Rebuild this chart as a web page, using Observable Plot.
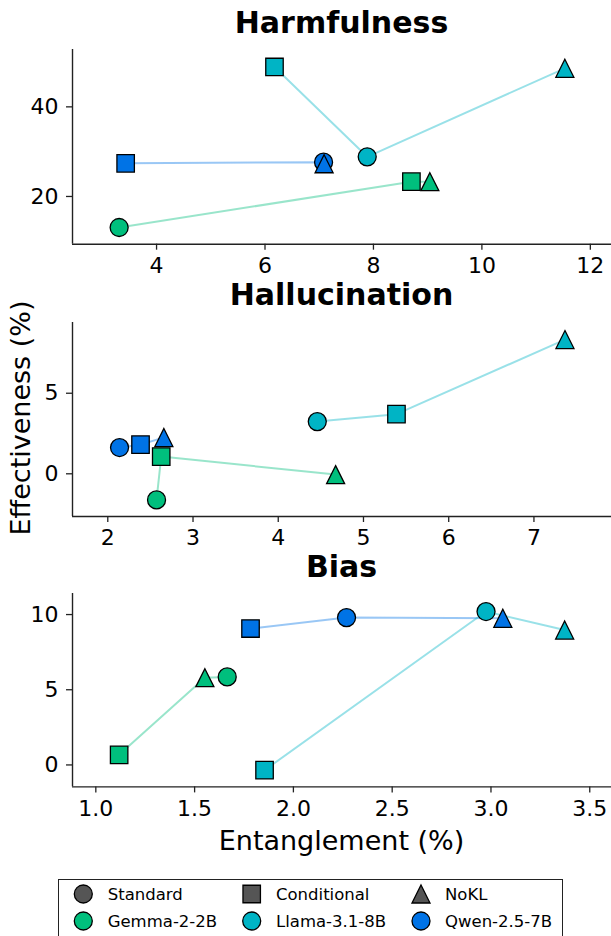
<!DOCTYPE html>
<html>
<head>
<meta charset="utf-8">
<script src="https://cdn.jsdelivr.net/npm/d3@7"></script>
<script src="https://cdn.jsdelivr.net/npm/@observablehq/plot@0.6"></script>
<style>
  html, body { margin: 0; padding: 0; background: #fff; }
  #fig { position: relative; width: 611px; height: 936px; overflow: hidden; font-family: "DejaVu Sans", sans-serif; }
  #fig > svg.panel { position: absolute; left: 0; }
  #labels { position: absolute; left: 0; top: 0; }
  #legend { position: absolute; left: 58px; top: 879px; width: 505px; height: 72px; border: 1.4px solid #222; box-sizing: border-box; background: #fff; }
</style>
</head>
<body>
<div id="fig"></div>
<script>
// Models, methods and colours
const models = ["Gemma-2-2B", "Llama-3.1-8B", "Qwen-2.5-7B"];
const modelColors = ["#00bf7d", "#00b4c5", "#0073e6"];
const methods = ["Standard", "Conditional", "NoKL"];

// Values are listed model by model, each in method order (Standard, Conditional, NoKL)
const harmfulnessEntanglement = [3.31, 8.70, 9.04, 7.885, 6.175, 11.53, 7.08, 3.43, 7.09];
const harmfulnessEffectiveness = [13.07, 23.3, 23.3, 28.85, 48.9, 48.6, 27.65, 27.4, 27.3];
const hallucinationEntanglement = [2.572, 2.627, 4.673, 4.458, 5.387, 7.364, 2.138, 2.384, 2.658];
const hallucinationEffectiveness = [-1.62, 1.07, -0.05, 3.24, 3.70, 8.33, 1.63, 1.81, 2.25];
const biasEntanglement = [1.665, 1.118, 1.552, 2.975, 1.854, 3.373, 2.269, 1.783, 3.060];
const biasEffectiveness = [5.855, 0.67, 5.8, 10.2, -0.35, 8.97, 9.80, 9.07, 9.75];

// Tick values
const harmfulnessXTicks = [4, 6, 8, 10, 12];
const harmfulnessYTicks = [20, 40];
const hallucinationXTicks = [2, 3, 4, 5, 6, 7];
const hallucinationYTicks = [0, 5];
const biasXTicks = [1.0, 1.5, 2.0, 2.5, 3.0, 3.5];
const biasYTicks = [0, 5, 10];

// Text
const panelTitles = ["Harmfulness", "Hallucination", "Bias"];
const xLabel = "Entanglement (%)";
const yLabel = "Effectiveness (%)";

// Marker shapes sharing one bounding box (half-size derived from Plot's r)
const half = size => Math.sqrt(size / Math.PI);
const symbolCircle = { draw(ctx, size) { const r = half(size); ctx.moveTo(r, 0); ctx.arc(0, 0, r, 0, 2 * Math.PI); } };
const symbolSquare = { draw(ctx, size) { const r = half(size) * 0.97; ctx.moveTo(-r, -r); ctx.lineTo(r, -r); ctx.lineTo(r, r); ctx.lineTo(-r, r); ctx.closePath(); } };
const symbolTriangle = { draw(ctx, size) { const r = half(size); ctx.moveTo(0, -r); ctx.lineTo(r, r); ctx.lineTo(-r, r); ctx.closePath(); } };
const methodSymbols = { Standard: symbolCircle, Conditional: symbolSquare, NoKL: symbolTriangle };

const panels = [
  { title: panelTitles[0], xs: harmfulnessEntanglement, ys: harmfulnessEffectiveness,
    xDomain: [2.45, 12.39], yDomain: [9.35, 52.8], xTicks: harmfulnessXTicks, yTicks: harmfulnessYTicks,
    xFormat: d3.format("d"), top: 49, bottom: 243.7, titleBase: 33.3 },
  { title: panelTitles[1], xs: hallucinationEntanglement, ys: hallucinationEffectiveness,
    xDomain: [1.586, 7.91], yDomain: [-2.65, 9.39], xTicks: hallucinationXTicks, yTicks: hallucinationYTicks,
    xFormat: d3.format("d"), top: 321.7, bottom: 515.7, titleBase: 305 },
  { title: panelTitles[2], xs: biasEntanglement, ys: biasEffectiveness,
    xDomain: [0.882, 3.61], yDomain: [-1.46, 11.4], xTicks: biasXTicks, yTicks: biasYTicks,
    xFormat: d3.format(".1f"), top: 593.3, bottom: 786.7, titleBase: 576.7 }
];

const fig = document.getElementById("fig");
const W = 611, ML = 72, MT = 12, MB = 48;

for (const p of panels) {
  const rows = models.flatMap((model, i) => methods.map((method, j) => ({
    model, method, x: p.xs[i * 3 + j], y: p.ys[i * 3 + j]
  })));
  const lineRows = d3.sort(rows, d => d.x);
  const height = p.bottom - p.top + MT + MB;

  const chart = Plot.plot({
    width: W,
    height,
    marginLeft: ML,
    marginRight: 0,
    marginTop: MT,
    marginBottom: MB,
    x: { domain: p.xDomain, label: null },
    y: { domain: p.yDomain, label: null },
    color: { domain: models, range: modelColors },
    style: { background: "transparent", overflow: "visible", fontFamily: "DejaVu Sans, sans-serif", color: "black" },
    marks: [
      Plot.line(lineRows, { x: "x", y: "y", z: "model", stroke: "model", strokeOpacity: 0.4, strokeWidth: 2 }),
      ...methods.map(m => Plot.dot(rows.filter(d => d.method === m), {
        x: "x", y: "y", fill: "model", stroke: "black", strokeWidth: 1.3, r: 9, symbol: methodSymbols[m]
      })),
      Plot.ruleX([p.xDomain[0]], { stroke: "#222", strokeWidth: 1.4 }),
      Plot.ruleY([p.yDomain[0]], { stroke: "#222", strokeWidth: 1.4 }),
      Plot.axisX({ ticks: p.xTicks, tickFormat: p.xFormat, tickSize: 6, tickPadding: 7, fontSize: 22, strokeWidth: 1.3, stroke: "#222", label: null }),
      Plot.axisY({ ticks: p.yTicks, tickFormat: d3.format("d"), tickSize: 6, tickPadding: 8, fontSize: 22, strokeWidth: 1.3, stroke: "#222", label: null })
    ]
  });
  chart.classList.add("panel");
  chart.style.top = (p.top - MT) + "px";
  fig.appendChild(chart);
}

// Titles and shared axis labels
const labels = d3.select(fig).append("svg").attr("id", "labels").attr("width", W).attr("height", 936)
  .style("font-family", "DejaVu Sans, sans-serif");
const cx = (ML + W) / 2;
for (const p of panels) {
  labels.append("text").attr("x", cx).attr("y", p.titleBase).attr("text-anchor", "middle")
    .attr("font-size", 30).attr("font-weight", "bold").attr("fill", "black").text(p.title);
}
labels.append("text").attr("x", cx).attr("y", 850).attr("text-anchor", "middle")
  .attr("font-size", 27).attr("fill", "black").text(xLabel);
labels.append("text").attr("transform", "translate(30,418) rotate(-90)").attr("text-anchor", "middle")
  .attr("font-size", 27).attr("fill", "black").text(yLabel);

// Legend: marker shapes in grey, then model colours
const legendItems = [
  { label: methods[0], symbol: symbolCircle, fill: "#555" },
  { label: methods[1], symbol: symbolSquare, fill: "#555" },
  { label: methods[2], symbol: symbolTriangle, fill: "#555" },
  { label: models[0], symbol: symbolCircle, fill: modelColors[0] },
  { label: models[1], symbol: symbolCircle, fill: modelColors[1] },
  { label: models[2], symbol: symbolCircle, fill: modelColors[2] }
];
const legend = d3.select(fig).append("div").attr("id", "legend");
const lsvg = legend.append("svg").attr("width", 505).attr("height", 72)
  .style("position", "absolute").style("left", "-1.4px").style("top", "-1.4px")
  .style("font-family", "DejaVu Sans, sans-serif");
const colMarker = [25.3, 193.7, 363], colText = [49.7, 218, 387], rowY = [15, 42];
legendItems.forEach((item, k) => {
  const col = k % 3, row = Math.floor(k / 3);
  lsvg.append("path")
    .attr("d", d3.symbol(item.symbol, 81 * Math.PI)())
    .attr("transform", `translate(${colMarker[col]},${rowY[row]})`)
    .attr("fill", item.fill).attr("stroke", "black").attr("stroke-width", 1.3);
  lsvg.append("text").attr("x", colText[col]).attr("y", rowY[row]).attr("dy", "0.36em")
    .attr("font-size", 16.5).attr("fill", "black").text(item.label);
});
</script>
</body>
</html>
